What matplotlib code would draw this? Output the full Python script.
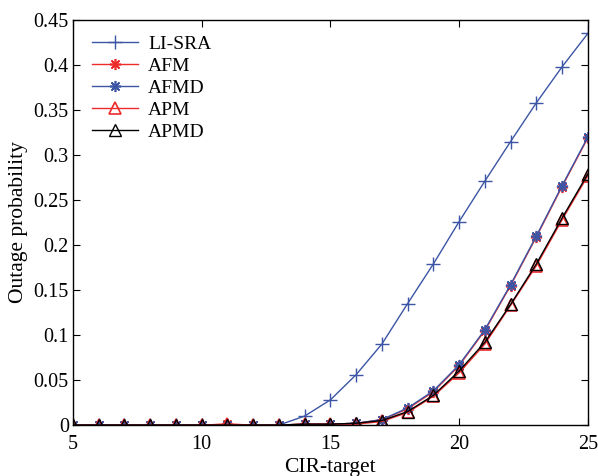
import matplotlib
matplotlib.use("Agg")
import matplotlib.pyplot as plt
import numpy as np

plt.rcParams["font.family"] = ["Liberation Serif", "DejaVu Serif"]

# ===== data =====
cir = list(range(5, 26))
li_sra = [0, 0, 0, 0, 0, 0, 0, 0, 0, 0.010, 0.028, 0.056, 0.090, 0.135,
          0.179, 0.226, 0.271, 0.315, 0.358, 0.398, 0.435]
afm = [0, 0, 0, 0, 0, 0, 0.001, 0, 0, 0.001, 0.001, 0.002, 0.006, 0.018,
       0.037, 0.066, 0.105, 0.155, 0.209, 0.265, 0.319]
afmd = [0, 0, 0, 0, 0, 0, 0, 0, 0, 0.001, 0.001, 0.002, 0.006, 0.019,
        0.038, 0.067, 0.106, 0.156, 0.210, 0.266, 0.320]
apm = [0, 0, 0, 0, 0, 0, 0.001, 0, 0, 0.001, 0.001, 0.001, 0.004, 0.014,
       0.032, 0.058, 0.090, 0.133, 0.177, 0.228, 0.277]
apmd = [0, 0, 0, 0, 0, 0, 0, 0, 0, 0.001, 0.001, 0.002, 0.005, 0.015,
        0.033, 0.060, 0.092, 0.134, 0.179, 0.230, 0.279]

BLUE = "#3c55a5"
RED = "#ee2b2b"
ASTERISK = (8, 2, 0)  # MATLAB-like '*'

fig = plt.figure(figsize=(5.98, 4.76), dpi=100)
ax = fig.add_axes([0.122, 0.107, 0.861, 0.851])

ax.plot(cir, li_sra, color=BLUE, lw=1, marker="+", ms=10, mew=1, label="LI-SRA")
ax.plot(cir, afm, color=RED, lw=1, marker=ASTERISK, ms=8, mew=1.2, label="AFM")
ax.plot(cir, afmd, color=BLUE, lw=1, marker=ASTERISK, ms=8, mew=1.2, label="AFMD")
ax.plot(cir, apm, color=RED, lw=1, marker="^", ms=8, mew=1.2, mfc="none", label="APM")
ax.plot(cir, apmd, color="black", lw=1, marker="^", ms=8, mew=1, mfc="none", label="APMD")

ax.set_xlim(5, 25)
ax.set_ylim(0, 0.45)
ax.set_xticks([5, 10, 15, 20, 25])
ax.set_yticks(np.arange(0, 0.451, 0.05))
ax.set_yticklabels(["0", "0.05", "0.1", "0.15", "0.2", "0.25", "0.3", "0.35", "0.4", "0.45"])
ax.tick_params(direction="in", top=True, right=True, labelsize=14.5, length=5)
ax.tick_params(axis="x", pad=7)
ax.tick_params(axis="y", pad=3)
for s in ax.spines.values():
    s.set_linewidth(1)

ax.set_xlabel("CIR-target", fontsize=15.5, labelpad=3)
ax.set_ylabel("Outage probability", fontsize=15.5, labelpad=4)

ax.legend(loc="upper left", bbox_to_anchor=(0.008, 0.998), frameon=False,
          fontsize=14, handlelength=2.4, labelspacing=0.22,
          borderaxespad=0.35, handletextpad=0.5)

fig.savefig("out.png", dpi=100)
